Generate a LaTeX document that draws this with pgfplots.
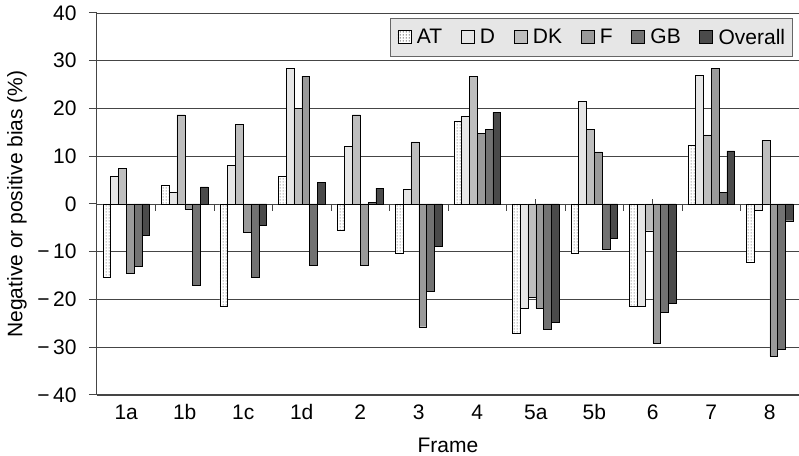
\documentclass[border=0pt]{standalone}
\usepackage{fontspec}
\setmainfont{Liberation Sans}
\usepackage{pgfplots}
\usepackage{pgfplotstable}
\pgfplotsset{compat=1.18}
\usetikzlibrary{patterns.meta,calc}

\definecolor{cD}{HTML}{E6E6E6}
\definecolor{cDK}{HTML}{BEBEBE}
\definecolor{cF}{HTML}{9A9A9A}
\definecolor{cGB}{HTML}{727272}
\definecolor{cOV}{HTML}{4A4A4A}
\definecolor{edge}{HTML}{555555}
\definecolor{gridc}{HTML}{454545}
\definecolor{legbg}{HTML}{E6E6E6}

\tikzdeclarepattern{
  name=atdash, type=uncolored,
  bottom left={(0pt,0pt)}, top right={(3pt,3pt)},
  tile size={(3pt,3pt)},
  code={\pgfpathrectangle{\pgfpoint{1.0pt}{0.5pt}}{\pgfpoint{0.9pt}{1.9pt}}\pgfusepath{fill}}
}

\pgfplotstableread{
x AT D DK F GB OV
0 -15.4 5.85 7.5 -14.5 -13.1 -6.5
1 3.9 2.5 18.7 -1.1 -17.1 3.6
2 -21.5 8.1 16.7 -5.9 -15.3 -4.5
3 5.85 28.4 20.1 26.8 -12.9 4.5
4 -5.4 12.0 18.7 -12.9 0.3 3.3
5 -10.3 3.1 13.0 -25.7 -18.2 -8.8
6 17.3 18.4 26.8 14.8 15.6 19.2
7 -27.1 -21.8 -19.6 -21.8 -26.3 -24.7
8 -10.2 21.5 15.6 10.9 -9.5 -7.1
9 -21.5 -21.5 -5.6 -29.1 -22.7 -20.8
10 12.3 27.0 14.5 28.4 2.5 11.1
11 -12.1 -1.4 13.3 -31.9 -30.4 -3.5
}\data

\begin{document}
\begin{tikzpicture}
\begin{axis}[
  scale only axis, width=702pt, height=382pt,
  xmin=-0.5, xmax=11.5, ymin=-40, ymax=40,
  ybar=0pt, bar width=7.8pt,
  axis x line*=bottom, axis y line*=left,
  axis line style={-, draw=gridc, line width=1pt},
  xtick={0,...,11},
  xticklabels={1a,1b,1c,1d,2,3,4,5a,5b,6,7,8},
  x tick style={draw=none},
  ytick={-40,-30,...,40},
  yticklabels={−\,40,−\,30,−\,20,−\,10,0,10,20,30,40},
  y tick style={draw=gridc, line width=1pt},
  tick align=outside, major tick length=8pt,
  ymajorgrids, grid style={draw=gridc, line width=0.9pt},
  tick label style={font=\fontsize{21}{24}\selectfont},
  label style={font=\fontsize{21}{24}\selectfont},
  xticklabel style={anchor=base, yshift=-17pt},
  yticklabel style={xshift=-9pt},
  xlabel={Frame}, ylabel={Negative or positive bias (\%)},
  xlabel style={at={(rel axis cs:0.5,0)}, anchor=base, yshift=-58pt},
  ylabel style={at={(rel axis cs:0,0.5)}, anchor=center, yshift=80pt},
  every bar/.append style={draw=edge, line width=0.9pt},
  legend columns=6,
  legend cell align=left,
  legend style={at={(rel axis cs:1,1)}, anchor=north east, xshift=-6pt, yshift=-5pt,
    fill=legbg, draw=gray!80!black, line width=0.8pt,
    font=\fontsize{21}{24}\selectfont, inner xsep=7pt, inner ysep=10pt,
    nodes={inner sep=0.5pt},
    /tikz/every odd column/.append style={column sep=5pt},
    /tikz/every even column/.append style={column sep=18pt}},
  legend image code/.code={\draw[#1,line width=0.8pt] (0pt,-6.5pt) rectangle (13pt,6.5pt);},
]
\pgfplotsinvokeforeach{0,...,11}{\draw[draw=gridc, line width=0.8pt] (axis cs:#1,0) -- ++(0pt,5pt);}
\addplot[fill=white, postaction={pattern=atdash, pattern color=black!55}] table[x=x,y=AT]{\data};
\addplot[fill=cD] table[x=x,y=D]{\data};
\addplot[fill=cDK] table[x=x,y=DK]{\data};
\addplot[fill=cF] table[x=x,y=F]{\data};
\addplot[fill=cGB] table[x=x,y=GB]{\data};
\addplot[fill=cOV] table[x=x,y=OV]{\data};
\legend{AT,D,DK,F,GB,Overall}
\pgfplotsinvokeforeach{0,...,10}{\draw[draw=gridc, line width=0.8pt] (axis cs:#1.5,0) -- ++(0pt,-7pt);}
\end{axis}
\pgfresetboundingbox
\path ($(current axis.south west)+(-97pt,-61pt)$) rectangle ($(current axis.north east)+(0pt,13pt)$);
\end{tikzpicture}
\end{document}
